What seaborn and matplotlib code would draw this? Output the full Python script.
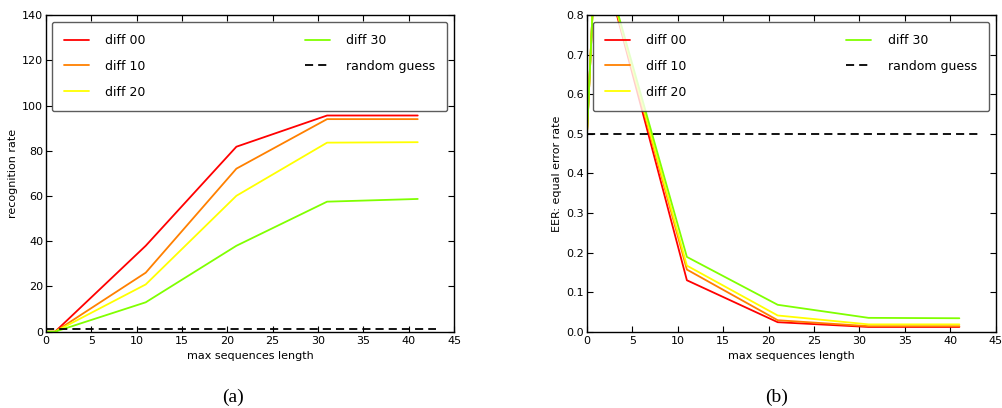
import pandas as pd
import matplotlib
matplotlib.use("Agg")
import matplotlib.pyplot as plt
import seaborn as sns

# data
seq_len = [0, 1, 11, 21, 31, 41]
series_names = ["diff 00", "diff 10", "diff 20", "diff 30"]
series_colors = ["#ff0000", "#ff8000", "#ffff00", "#80ff00"]

recog_diff00 = [0, 0, 38.0, 81.8, 95.6, 95.6]
recog_diff10 = [0, 0, 26.1, 72.1, 94.0, 94.0]
recog_diff20 = [0, 0, 20.9, 60.1, 83.6, 83.8]
recog_diff30 = [0, 0, 13.0, 38.0, 57.5, 58.7]

eer_diff00 = [0.5, 1.0, 0.130, 0.024, 0.012, 0.012]
eer_diff10 = [0.5, 1.0, 0.157, 0.029, 0.014, 0.014]
eer_diff20 = [0.5, 1.0, 0.167, 0.041, 0.0185, 0.0185]
eer_diff30 = [0.5, 1.0, 0.189, 0.068, 0.035, 0.034]

guess_x = [0, 43]
recog_guess = [1.0, 1.0]
eer_guess = [0.5, 0.5]


def long_frame(values):
    rows = []
    for name, vals in zip(series_names, values):
        for x, y in zip(seq_len, vals):
            rows.append({"len": x, "val": y, "series": name})
    return pd.DataFrame(rows)


sns.set_theme(style="white", rc={
    "xtick.direction": "in", "ytick.direction": "in",
    "xtick.top": True, "ytick.right": True,
    "xtick.bottom": True, "ytick.left": True,
    "xtick.major.size": 4, "ytick.major.size": 4,
    "xtick.major.width": 0.8, "ytick.major.width": 0.8,
    "xtick.major.pad": 3, "ytick.major.pad": 2,
    "axes.edgecolor": "black", "axes.linewidth": 1.0,
    "xtick.color": "black", "ytick.color": "black",
    "xtick.labelsize": 8, "ytick.labelsize": 8,
    "axes.labelsize": 8, "text.color": "black", "axes.labelcolor": "black",
})
plt.rcParams["font.family"] = ["DejaVu Sans"]

fig = plt.figure(figsize=(10.02, 4.08), dpi=100)
ax1 = fig.add_axes([0.0459, 0.187, 0.4072, 0.776])
ax2 = fig.add_axes([0.5858, 0.187, 0.4079, 0.776])

panels = [
    (ax1, [recog_diff00, recog_diff10, recog_diff20, recog_diff30], recog_guess,
     "recognition rate", (0, 140), range(0, 141, 20)),
    (ax2, [eer_diff00, eer_diff10, eer_diff20, eer_diff30], eer_guess,
     "EER: equal error rate", (0, 0.8), [i / 10 for i in range(9)]),
]

for ax, vals, guess, ylab, ylim, yticks in panels:
    df = long_frame(vals)
    sns.lineplot(data=df, x="len", y="val", hue="series", palette=series_colors,
                 estimator=None, sort=False, linewidth=1.3, ax=ax)
    sns.lineplot(x=guess_x, y=guess, color="black", linestyle="--",
                 dashes=False, linewidth=1.3, ax=ax, label="random guess")
    ax.lines[-1].set_dashes((4.5, 2.8))
    ax.set_xlim(0, 45)
    ax.set_ylim(*ylim)
    ax.set_xticks(range(0, 46, 5))
    ax.set_yticks(list(yticks))
    if ylim[1] < 1:
        ax.set_yticklabels([f"{t:.1f}" for t in yticks])
    ax.set_xlabel("max sequences length")
    ax.set_ylabel(ylab, labelpad=3)
    leg = ax.legend(loc="lower left", bbox_to_anchor=(0.014, 0.697, 0.97, 0.281),
                    mode="expand", ncol=2, fontsize=9, frameon=True, fancybox=True,
                    handlelength=2.0, handletextpad=1.3, labelspacing=1.02,
                    borderpad=1.0, borderaxespad=0)
    leg.get_frame().set_edgecolor("#333333")
    leg.get_frame().set_linewidth(1.0)

fig.text(0.2325, 0.026, "(a)", ha="center", va="center",
         family=["Liberation Serif"], fontsize=14)
fig.text(0.775, 0.026, "(b)", ha="center", va="center",
         family=["Liberation Serif"], fontsize=14)

fig.savefig("out.png", dpi=100)
